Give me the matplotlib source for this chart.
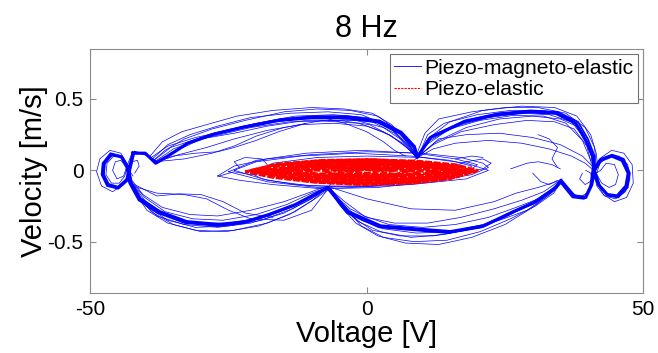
# Phase portrait at 8 Hz: voltage vs. velocity for the two harvesters.
import matplotlib
matplotlib.use("Agg")
import matplotlib.pyplot as plt

plt.rcParams['font.family'] = ['Liberation Sans', 'DejaVu Sans']
plt.rcParams['axes.unicode_minus'] = False

# ---- data, (voltage [V], velocity [m/s]) ----
# densest orbits of the piezo-magneto-elastic harvester (two passes)
main_orbit = [(-42.3, 0.12), (-40.1, 0.12), (-38.2, 0.05), (-36.0, 0.10), (-32.4, 0.19),
              (-28.0, 0.25), (-22.6, 0.30), (-15.9, 0.35), (-10.0, 0.37), (-3.9, 0.37),
              (2.0, 0.34), (6.1, 0.26), (8.6, 0.16), (9.1, 0.09), (11.5, 0.23),
              (17.6, 0.34), (23.5, 0.39), (29.4, 0.41), (34.2, 0.40), (37.8, 0.33),
              (39.6, 0.21), (40.9, 0.095), (41.0, 0.005), (41.9, -0.10), (43.5, -0.17),
              (45.3, -0.18), (46.9, -0.11), (47.3, -0.02), (46.2, 0.07), (44.3, 0.10),
              (42.3, 0.07), (41.0, -0.01), (40.7, -0.10), (39.6, -0.19), (37.5, -0.18),
              (35.1, -0.07), (34.2, -0.12), (30.6, -0.22), (26.5, -0.29), (21.1, -0.39),
              (15.1, -0.43), (8.6, -0.41), (2.5, -0.39), (-3.4, -0.29), (-7.0, -0.12),
              (-8.8, -0.155), (-12.9, -0.24), (-17.7, -0.31), (-21.9, -0.36), (-26.7, -0.38),
              (-32.6, -0.36), (-37.5, -0.29), (-41.0, -0.20), (-42.7, -0.085), (-43.2, 0.02),
              (-44.4, 0.095), (-46.2, 0.11), (-47.5, 0.05), (-47.7, -0.03), (-46.8, -0.10),
              (-45.0, -0.12), (-43.4, -0.065), (-42.8, 0.04), (-42.3, 0.12)]

main_orbit_b = [(-42.0, 0.13), (-40.0, 0.11), (-38.0, 0.06), (-35.5, 0.11), (-32, 0.20),
                (-27.5, 0.26), (-22, 0.31), (-15.5, 0.36), (-9.5, 0.38), (-3.5, 0.38),
                (2.3, 0.35), (6.3, 0.27), (8.7, 0.17), (9.2, 0.10), (11.8, 0.24),
                (17.8, 0.35), (23.8, 0.40), (29.6, 0.42), (34.5, 0.41), (38.2, 0.34),
                (40, 0.22), (41.2, 0.10), (41.3, 0.0), (42.2, -0.11), (43.8, -0.18),
                (45.5, -0.19), (47.2, -0.12), (47.6, -0.02), (46.5, 0.08), (44.4, 0.11),
                (42.2, 0.08), (40.8, 0.0), (40.4, -0.11), (39.3, -0.20), (37.2, -0.19),
                (34.9, -0.08), (33.9, -0.13), (30.3, -0.23), (26.2, -0.30), (20.8, -0.40),
                (14.8, -0.44), (8.3, -0.42), (2.2, -0.40), (-3.6, -0.30), (-7.1, -0.13),
                (-9.0, -0.165), (-13.2, -0.25), (-18, -0.32), (-22.2, -0.37), (-27, -0.39),
                (-32.9, -0.37), (-37.8, -0.30), (-41.3, -0.21), (-43.0, -0.09), (-43.5, 0.02),
                (-44.6, 0.10), (-46.4, 0.12), (-47.8, 0.05), (-48.0, -0.03), (-47.0, -0.11),
                (-45.0, -0.13), (-43.2, -0.07), (-42.5, 0.05), (-42.0, 0.13)]

upper_band = [
    [(-38.6, 0.07), (-36.5, 0.14), (-33, 0.22), (-28, 0.29), (-22, 0.35), (-15, 0.41), (-9, 0.43),
     (-3, 0.42), (2, 0.38), (5.5, 0.28), (8, 0.16), (9.3, 0.10), (11, 0.22), (15, 0.34), (21, 0.42),
     (28, 0.45), (34, 0.44), (38, 0.38), (40.5, 0.25), (41.5, 0.12), (41.8, 0.02)],
    [(-38.2, 0.05), (-35.5, 0.12), (-31, 0.20), (-26, 0.27), (-20, 0.33), (-13, 0.38), (-6, 0.39),
     (0, 0.37), (4.5, 0.29), (7.5, 0.18), (9, 0.09), (11.5, 0.21), (16, 0.31), (22, 0.37),
     (28, 0.40), (33, 0.39), (37, 0.34), (39.5, 0.22), (40.8, 0.08)],
    [(-38, 0.06), (-34, 0.11), (-29, 0.16), (-24, 0.22), (-18, 0.28), (-12, 0.32), (-6, 0.33),
     (0, 0.31), (4, 0.25), (7, 0.17), (9, 0.09), (12, 0.18), (17, 0.27), (23, 0.32), (29, 0.35),
     (34, 0.34), (37.5, 0.29), (39.8, 0.17), (40.6, 0.05)],
    [(-39, 0.09), (-36, 0.17), (-31, 0.23), (-25, 0.28), (-19, 0.33), (-12, 0.36), (-5, 0.36),
     (1, 0.34), (5, 0.26), (8.2, 0.15), (9.2, 0.09), (11, 0.25), (14, 0.33), (20, 0.39), (26, 0.42),
     (32, 0.42), (36.5, 0.37), (39.2, 0.26), (40.5, 0.13), (41, 0.0)],
    [(-38.4, 0.06), (-35, 0.15), (-30, 0.22), (-24, 0.26), (-18, 0.31), (-11, 0.35), (-5, 0.35),
     (0.5, 0.32), (4.5, 0.24), (7.8, 0.14), (9.1, 0.09), (12.5, 0.20), (18, 0.30), (24, 0.36),
     (30, 0.38), (35, 0.36), (38.5, 0.30), (40.2, 0.18), (41, 0.06)],
    [(-38.8, 0.08), (-36, 0.18), (-32, 0.25), (-27, 0.31), (-21, 0.37), (-14, 0.40), (-7, 0.41),
     (-1, 0.39), (3.5, 0.32), (6.8, 0.20), (8.9, 0.10), (10.5, 0.26), (13, 0.36), (19, 0.41),
     (25, 0.44), (31, 0.44), (36, 0.40), (39.5, 0.30), (41.2, 0.16), (41.5, 0.04)],
    [(-38.5, 0.07), (-35.5, 0.16), (-31.5, 0.21), (-26.5, 0.25), (-21, 0.30), (-14, 0.34),
     (-7.5, 0.345), (-1.5, 0.33), (3, 0.27), (6.5, 0.19), (8.8, 0.10), (11.2, 0.19), (15, 0.29),
     (20.5, 0.35), (26.5, 0.385), (32, 0.38), (36, 0.33), (39, 0.21), (40.5, 0.07)],
    [(-39.2, 0.10), (-37, 0.20), (-33.5, 0.27), (-29, 0.32), (-23.5, 0.38), (-17, 0.42),
     (-10, 0.44), (-4, 0.43), (1, 0.40), (4.5, 0.32), (7.5, 0.19), (9, 0.10)],
    [(-38.3, 0.06), (-33, 0.08), (-28, 0.12), (-24, 0.17), (-20, 0.24), (-15, 0.30), (-8, 0.35),
     (-2, 0.35), (3, 0.30), (6, 0.22), (8.5, 0.12)],
    [(9.2, 0.09), (12, 0.15), (16, 0.19), (22, 0.21), (28, 0.19), (33, 0.15), (37, 0.10),
     (39.5, 0.05), (41, 0.0)],
    [(9.5, 0.10), (13, 0.22), (18, 0.25), (24, 0.26), (30, 0.23), (35, 0.18), (39, 0.10), (41, 0.02)],
    [(-38, 0.06), (-35, 0.10), (-31, 0.12), (-27, 0.13), (-24, 0.16), (-20, 0.21), (-16, 0.27),
     (-11, 0.33)],
    [(-8, 0.37), (-4, 0.33), (0, 0.27), (3, 0.20), (5, 0.14), (7, 0.10)],
]

lower_band = [
    [(35.3, -0.06), (34, -0.14), (30, -0.26), (25, -0.38), (19, -0.47), (13, -0.52), (7, -0.51),
     (2, -0.46), (-2, -0.37), (-5, -0.24), (-6.8, -0.13), (-9, -0.19), (-13, -0.29), (-18, -0.37),
     (-24, -0.42), (-30, -0.43), (-35, -0.38), (-39, -0.29), (-41.5, -0.17), (-42.8, -0.06)],
    [(35.1, -0.07), (33.5, -0.13), (30, -0.22), (26, -0.30), (21, -0.38), (15, -0.43), (9, -0.44),
     (3, -0.41), (-1, -0.35), (-4, -0.25), (-7, -0.12), (-9.5, -0.17), (-14, -0.26), (-19, -0.33),
     (-25, -0.37), (-31, -0.37), (-36, -0.32), (-40, -0.22), (-42.3, -0.10)],
    [(35, -0.07), (32, -0.15), (28, -0.21), (23, -0.27), (17, -0.33), (11, -0.37), (5, -0.37),
     (0, -0.33), (-3, -0.27), (-6, -0.17), (-7.2, -0.11), (-10, -0.15), (-15, -0.22), (-21, -0.28),
     (-27, -0.32), (-32, -0.31), (-37, -0.26), (-40.5, -0.17), (-42.5, -0.07)],
    [(35.5, -0.08), (33, -0.17), (29, -0.28), (24, -0.35), (18, -0.42), (12, -0.46), (6, -0.46),
     (1, -0.42), (-2.5, -0.33), (-5.5, -0.20), (-7, -0.12), (-10, -0.20), (-15, -0.30),
     (-21, -0.37), (-27, -0.40), (-33, -0.38), (-38, -0.32), (-41, -0.21), (-42.7, -0.08)],
    [(35.2, -0.07), (33, -0.15), (29.5, -0.24), (25, -0.33), (20, -0.40), (14, -0.45), (8, -0.47),
     (2.5, -0.43), (-1.5, -0.36), (-4.5, -0.24), (-6.9, -0.12), (-9.2, -0.18), (-13.5, -0.27),
     (-19, -0.35), (-25, -0.39), (-31, -0.40), (-36, -0.35), (-40, -0.25), (-42.3, -0.12)],
    [(35.4, -0.07), (34.5, -0.12), (31, -0.20), (27, -0.26), (22, -0.33), (16, -0.38), (10, -0.40),
     (4, -0.38), (-0.5, -0.32), (-4, -0.22), (-7, -0.12), (-10, -0.16), (-14.5, -0.24),
     (-20, -0.31), (-26, -0.35), (-31.5, -0.34), (-36.5, -0.29), (-40.2, -0.19), (-42.6, -0.08)],
    [(35.3, -0.07), (33.8, -0.16), (30.5, -0.25), (26, -0.34), (20.5, -0.43), (14.5, -0.49),
     (8.5, -0.50), (3, -0.47), (-1, -0.39), (-4, -0.26), (-6.7, -0.12)],
    [(-7.1, -0.12), (-9.8, -0.21), (-14, -0.31), (-19.5, -0.39), (-25.5, -0.43), (-31, -0.42),
     (-36, -0.37), (-39.8, -0.28), (-42, -0.15)],
    [(-6.5, -0.12), (0, -0.20), (8, -0.27), (16, -0.28), (23, -0.22), (27, -0.16), (31, -0.12),
     (35, -0.07)],
    [(-41.5, -0.12), (-38, -0.16), (-33, -0.17), (-29, -0.20), (-25, -0.28), (-21, -0.34),
     (-15, -0.35), (-10, -0.28), (-7, -0.13)],
    [(-42, -0.10), (-38, -0.18), (-34, -0.165), (-30, -0.17), (-26, -0.22), (-22, -0.30),
     (-17, -0.33)],
]

end_loops = [
    [(-42.8, -0.06), (-43.3, 0.04), (-44.5, 0.12), (-46.5, 0.14), (-48.3, 0.08), (-48.9, -0.01),
     (-48.0, -0.11), (-46.0, -0.15), (-44.0, -0.10), (-43.0, 0.0), (-42.5, 0.10)],
    [(-42.5, -0.08), (-43.0, 0.02), (-44.2, 0.09), (-45.8, 0.10), (-47.0, 0.05), (-47.2, -0.03),
     (-46.2, -0.09), (-44.8, -0.09), (-43.8, -0.04), (-43.2, 0.05), (-42.6, 0.11)],
    [(-43.5, 0.02), (-44.5, 0.07), (-45.5, 0.06), (-46, 0.0), (-45.2, -0.06), (-44, -0.04),
     (-43.5, 0.02)],
    [(-42.0, -0.02), (-41.2, 0.03), (-41.5, 0.07), (-42.5, 0.06), (-43, 0.0), (-42.3, -0.04)],
    [(41.2, 0.03), (41.5, -0.08), (42.8, -0.17), (44.8, -0.22), (47, -0.19), (48.2, -0.09),
     (48.0, 0.04), (46.5, 0.12), (44.3, 0.14), (42.4, 0.09), (41.2, -0.02), (40.5, -0.12),
     (39.8, -0.18)],
    [(41, 0.0), (41.6, -0.11), (43, -0.18), (45, -0.20), (46.8, -0.15), (47.6, -0.06),
     (47.2, 0.04), (45.6, 0.10), (43.8, 0.10), (42.2, 0.05), (41.4, -0.04), (40.2, -0.15),
     (38.5, -0.19), (36.8, -0.15), (35.2, -0.07)],
    [(41.5, -0.02), (42.5, -0.09), (43.8, -0.12), (45, -0.10), (45.5, -0.03), (44.8, 0.04),
     (43.3, 0.05), (42.3, 0.0), (41.5, -0.02)],
    [(39, -0.02), (38.5, -0.06), (39.5, -0.10), (40.8, -0.07), (40.5, -0.02), (39.6, 0.0)],
    [(34.5, 0.02), (33.5, 0.08), (34.5, 0.16), (33, 0.22), (31, 0.25)],
    [(30, -0.02), (31.5, -0.08), (33, -0.10), (34.5, -0.07)],
    [(26, 0.01), (29, 0.05), (31, 0.06), (33.5, 0.04), (35, 0.01)],
]

center_loops = [
    [(-27, -0.04), (-24, 0.03), (-18, 0.08), (-10, 0.11), (0, 0.13), (10, 0.12), (17, 0.09),
     (21, 0.05), (22, 0.02), (19, -0.03), (12, -0.08), (2, -0.12), (-8, -0.13), (-17, -0.10),
     (-23, -0.07), (-27, -0.04)],
    [(-24, 0.0), (-20, 0.06), (-12, 0.10), (-2, 0.12), (8, 0.10), (15, 0.07), (19, 0.03),
     (17, -0.03), (10, -0.08), (0, -0.11), (-10, -0.11), (-18, -0.07), (-24, 0.0)],
    [(-21, -0.02), (-17, 0.05), (-9, 0.09), (0, 0.10), (10, 0.09), (18, 0.05), (22, 0.0),
     (18, -0.06), (8, -0.10), (-3, -0.12), (-13, -0.10), (-19, -0.06), (-21, -0.02)],
    [(-25, -0.01), (-20, 0.07), (-11, 0.12), (-1, 0.14), (9, 0.12), (16, 0.08), (20, 0.04),
     (18, -0.02), (11, -0.07), (1, -0.11), (-9, -0.12), (-18, -0.08), (-25, -0.01)],
    [(-26.7, -0.04), (-24, -0.01), (-21, -0.03), (-18, -0.02)],
    [(-23, 0.02), (-24, 0.06), (-22, 0.09), (-19, 0.08), (-18, 0.04)],
    [(15, 0.02), (18, 0.06), (21, 0.08), (22.5, 0.05), (21, 0.01), (18, -0.01)],
    [(16, 0.08), (19, 0.10), (21, 0.09)],
    [(9.1, 0.09), (8, 0.05), (6, 0.02), (3, 0.0)],
    [(-7, -0.12), (-6, -0.07), (-4, -0.04), (-1, -0.02)],
]

# piezo-elastic harvester: nested orbits around the origin
red_loops = [
    [(-22, -0.01), (-17, 0.035), (-9, 0.065), (0, 0.075), (9, 0.065), (16, 0.04), (20, 0.0),
     (16, -0.05), (9, -0.085), (0, -0.10), (-9, -0.085), (-17, -0.05), (-22, -0.01)],
    [(-21, 0.0), (-16, 0.045), (-8, 0.07), (1, 0.075), (10, 0.055), (17, 0.025), (19, -0.01),
     (15, -0.06), (8, -0.09), (-1, -0.10), (-10, -0.08), (-17, -0.04), (-21, 0.0)],
    [(-20, -0.01), (-15, 0.04), (-8, 0.06), (0, 0.068), (8, 0.058), (15, 0.03), (18.5, -0.005),
     (15, -0.045), (8, -0.08), (0, -0.092), (-8, -0.08), (-15, -0.045), (-20, -0.01)],
    [(-19, -0.01), (-14, 0.03), (-7, 0.055), (1, 0.06), (9, 0.05), (15, 0.025), (18, -0.01),
     (14, -0.05), (7, -0.075), (-1, -0.085), (-9, -0.07), (-15, -0.04), (-19, -0.01)],
    [(-18, -0.015), (-13, 0.025), (-6, 0.048), (1, 0.052), (8, 0.042), (14, 0.018), (17, -0.015),
     (13, -0.05), (6, -0.07), (-1, -0.078), (-8, -0.066), (-14, -0.042), (-18, -0.015)],
    [(-17, -0.01), (-12, 0.03), (-6, 0.05), (1, 0.055), (8, 0.045), (13, 0.02), (16, -0.01),
     (13, -0.045), (6, -0.07), (-1, -0.078), (-8, -0.065), (-13, -0.04), (-17, -0.01)],
    [(-15, -0.01), (-11, 0.025), (-5, 0.045), (2, 0.05), (8, 0.04), (13, 0.015), (15, -0.015),
     (12, -0.045), (5, -0.065), (-2, -0.07), (-8, -0.055), (-12, -0.035), (-15, -0.01)],
    [(-13, -0.01), (-9, 0.02), (-4, 0.038), (2, 0.04), (7, 0.03), (11, 0.01), (12.5, -0.015),
     (10, -0.04), (4, -0.055), (-2, -0.058), (-7, -0.045), (-11, -0.03), (-13, -0.01)],
    [(-11, -0.01), (-8, 0.02), (-3, 0.035), (2, 0.035), (7, 0.025), (10, 0.0), (8, -0.03),
     (3, -0.05), (-3, -0.05), (-8, -0.035), (-11, -0.01)],
    [(-8, -0.005), (-5, 0.02), (0, 0.026), (5, 0.018), (7.5, -0.005), (5, -0.03), (0, -0.04),
     (-5, -0.03), (-8, -0.005)],
    [(-6, 0.0), (-3, 0.02), (2, 0.02), (5, 0.0), (2, -0.03), (-3, -0.03), (-6, 0.0)],
    [(-4, -0.005), (0, 0.01), (3, 0.0), (0, -0.02), (-4, -0.005)],
    # long, flat passes that fill the middle of the band
    [(-21, -0.01), (-12, 0.012), (0, 0.02), (10, 0.01), (19.5, -0.01), (10, -0.035),
     (0, -0.045), (-12, -0.035), (-21, -0.01)],
    [(-19, -0.012), (-10, 0.0), (0, 0.005), (10, -0.005), (18, -0.015), (10, -0.025),
     (0, -0.028), (-10, -0.024), (-19, -0.012)],
    [(-20.5, -0.005), (-12, 0.025), (0, 0.035), (11, 0.025), (19, -0.005), (11, -0.045),
     (0, -0.06), (-12, -0.045), (-20.5, -0.005)],
]

x_ticks = [-50, 0, 50]
y_ticks = [-0.5, 0, 0.5]

fig = plt.figure(figsize=(6.58, 3.53), dpi=100)
ax = fig.add_axes([0.1375, 0.17, 0.84, 0.691])

blue = (0, 0, 1)
for path in upper_band + lower_band + end_loops + center_loops:
    ax.plot([p[0] for p in path], [p[1] for p in path], color=blue, lw=0.5)
ax.plot([p[0] for p in main_orbit_b], [p[1] for p in main_orbit_b], color=blue, lw=1.2)
ax.plot([p[0] for p in main_orbit], [p[1] for p in main_orbit], color=blue, lw=2.3)
h_blue, = ax.plot([], [], color=blue, lw=0.6, label='Piezo-magneto-elastic')

for path in red_loops:
    ax.plot([p[0] for p in path], [p[1] for p in path], 'r--', lw=2.0, dashes=(2.5, 0.6))
h_red, = ax.plot([], [], 'r--', lw=0.8, dashes=(2, 1), label='Piezo-elastic')

ax.set_xlim(-50, 50)
ax.set_ylim(-0.86, 0.85)
ax.set_xticks(x_ticks)
ax.set_xticklabels(['-50', '0', '50'])
ax.set_yticks(y_ticks)
ax.set_yticklabels(['-0.5', '0', '0.5'])
ax.tick_params(direction='in', length=4, color='0.55', labelsize=15, top=True, right=True, pad=5)
for s in ax.spines.values():
    s.set_color('0.55')

ax.set_title('8 Hz', fontsize=22, pad=9)
ax.set_xlabel('Voltage [V]', fontsize=21, labelpad=1)
ax.set_ylabel('Velocity [m/s]', fontsize=21, labelpad=0)

leg = ax.legend(handles=[h_blue, h_red], loc='upper right', fontsize=15.2, fancybox=False,
                framealpha=1, edgecolor='0.45', borderpad=0.2, labelspacing=0.12,
                handlelength=1.3, handletextpad=0.15, borderaxespad=0.25)
leg.get_frame().set_linewidth(0.8)

fig.savefig('out.png', dpi=100)
